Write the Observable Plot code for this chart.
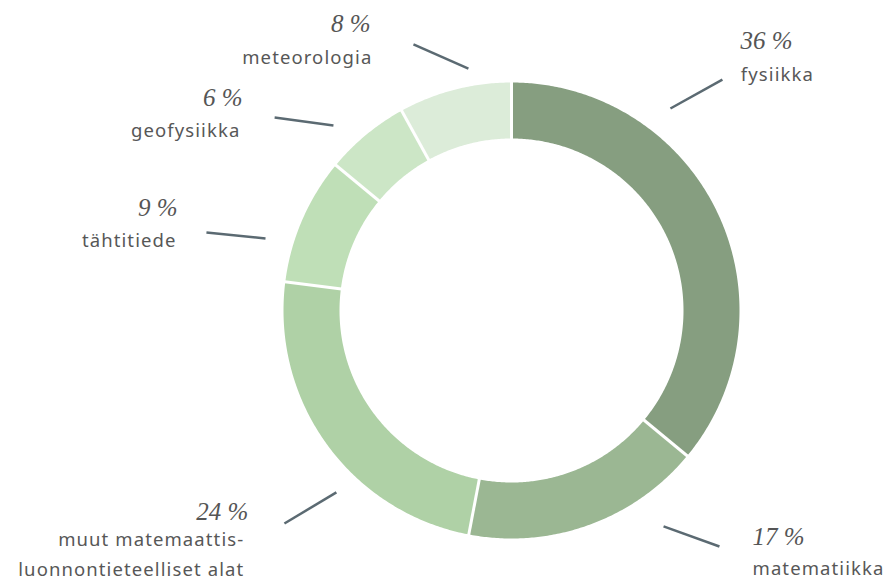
<!DOCTYPE html>
<html>
<head>
<meta charset="utf-8">
<script src="https://cdn.jsdelivr.net/npm/d3@7"></script>
<script src="https://cdn.jsdelivr.net/npm/@observablehq/plot@0.6"></script>
<style>
  html, body { margin: 0; padding: 0; background: #ffffff; }
  #chart svg g[font-family="Noto Sans"] { letter-spacing: 1.1px; }
</style>
</head>
<body>
<div id="chart"></div>
<script>
// ---- data ----
const categories = [
  "fysiikka",
  "matematiikka",
  "muut matemaattis-\nluonnontieteelliset alat",
  "tähtitiede",
  "geofysiikka",
  "meteorologia"
];
const shares = [36, 17, 24, 9, 6, 8];
const percentLabels = ["36 %", "17 %", "24 %", "9 %", "6 %", "8 %"];
const colors = ["#869e80", "#9bb793", "#afd1a6", "#bfdfb7", "#cce6c6", "#dcecd9"];

// ---- label layout (unit circle coordinates; outer radius = 1) ----
const labelSide = ["right", "right", "left", "left", "left", "left"];
const leaderStart = [[0.697, 0.886], [0.667, -0.947], [-0.768, -0.798], [-1.079, 0.316], [-0.781, 0.811], [-0.189, 1.061]];
const leaderEnd   = [[0.925, 1.013], [0.912, -1.035], [-0.996, -0.934], [-1.338, 0.342], [-1.039, 0.846], [-0.430, 1.167]];
const pctPos      = [[1.004, 1.180], [1.057, -0.995], [-1.154, -0.885], [-1.465, 0.448], [-1.180, 0.931], [-0.618, 1.255]];
const namePos     = [[1.006, 1.050], [1.057, -1.116], [-1.172, -1.058], [-1.469, 0.322], [-1.189, 0.804], [-0.610, 1.125]];

const outerR = 1;
const innerR = 172 / 228;

// ---- derived geometry ----
const total = d3.sum(shares);
let acc = 0;
const slices = categories.map((c, i) => {
  const a0 = acc / total * 2 * Math.PI;
  acc += shares[i];
  const a1 = acc / total * 2 * Math.PI;
  return {c, a0, a1};
});
const ring = slices.flatMap(s => {
  const n = Math.max(2, Math.ceil((s.a1 - s.a0) / (Math.PI / 360)));
  const pts = [];
  for (let k = 0; k <= n; k++) {
    const a = s.a0 + (s.a1 - s.a0) * k / n;
    pts.push({c: s.c, x: outerR * Math.sin(a), y: outerR * Math.cos(a)});
  }
  for (let k = n; k >= 0; k--) {
    const a = s.a0 + (s.a1 - s.a0) * k / n;
    pts.push({c: s.c, x: innerR * Math.sin(a), y: innerR * Math.cos(a)});
  }
  pts.push(pts[0]);
  return pts;
});
const labels = categories.map((c, i) => ({
  c, pct: percentLabels[i], side: labelSide[i],
  lx1: leaderStart[i][0], ly1: leaderStart[i][1],
  lx2: leaderEnd[i][0], ly2: leaderEnd[i][1],
  px: pctPos[i][0], py: pctPos[i][1],
  nx: namePos[i][0], ny: namePos[i][1]
}));
const right = labels.filter(d => d.side === "right");
const left = labels.filter(d => d.side === "left");

const pctStyle = {fontFamily: "Liberation Serif", fontStyle: "italic", fontSize: 25, fill: "#555555"};
const nameStyle = {fontFamily: "Noto Sans", fontSize: 18.5, fill: "#575757", lineHeight: 1.62};

const chart = Plot.plot({
  width: 896,
  height: 580,
  marginLeft: 283,
  marginRight: 157,
  marginTop: 82,
  marginBottom: 42,
  x: {domain: [-1, 1], axis: null},
  y: {domain: [-1, 1], axis: null},
  color: {domain: categories, range: colors},
  marks: [
    Plot.line(ring, {x: "x", y: "y", z: "c", fill: "c", stroke: null, curve: "linear"}),
    Plot.link(slices, {
      x1: d => (innerR - 0.02) * Math.sin(d.a0), y1: d => (innerR - 0.02) * Math.cos(d.a0),
      x2: d => (outerR + 0.02) * Math.sin(d.a0), y2: d => (outerR + 0.02) * Math.cos(d.a0),
      stroke: "white", strokeWidth: 3
    }),
    Plot.link(labels, {x1: "lx1", y1: "ly1", x2: "lx2", y2: "ly2", stroke: "#5b6a72", strokeWidth: 2.5}),
    Plot.text(right, {x: "px", y: "py", text: "pct", textAnchor: "start", ...pctStyle}),
    Plot.text(left, {x: "px", y: "py", text: "pct", textAnchor: "end", ...pctStyle}),
    Plot.text(right, {x: "nx", y: "ny", text: "c", textAnchor: "start", ...nameStyle}),
    Plot.text(left, {x: "nx", y: "ny", text: "c", textAnchor: "end", ...nameStyle})
  ]
});
document.getElementById("chart").appendChild(chart);
</script>
</body>
</html>
